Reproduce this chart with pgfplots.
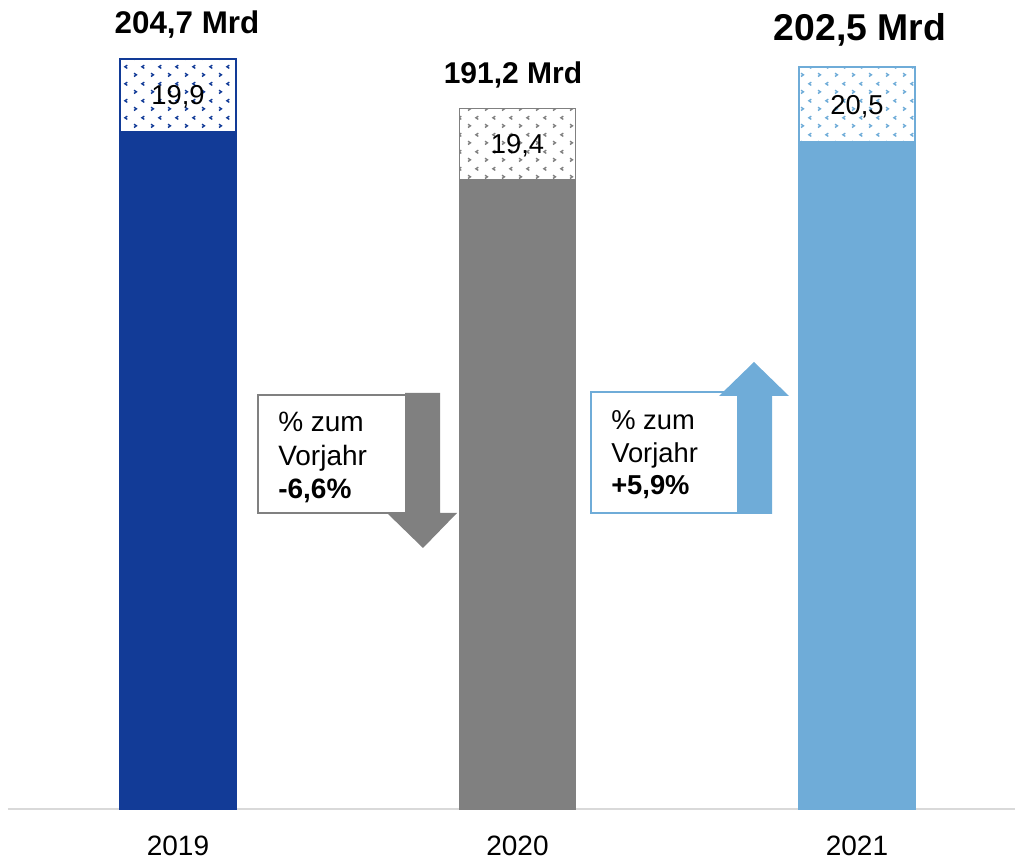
\documentclass[border=0pt]{standalone}
\usepackage{fontspec}
\setmainfont{Liberation Sans}
\usepackage{pgfplots}
\pgfplotsset{compat=1.18}
\usetikzlibrary{patterns.meta}
\definecolor{dblue}{RGB}{18,59,151}
\definecolor{mgray}{RGB}{128,128,128}
\definecolor{lblue}{RGB}{111,172,216}
\definecolor{axgray}{RGB}{217,217,217}

\tikzdeclarepattern{
  name=chevs,
  type=uncolored,
  bounding box={(0pt,0pt) and (12.5pt,12.75pt)},
  tile size={(12.5pt,12.75pt)},
  code={
    \draw[line width=1.1pt] (0.8pt,1.2pt) -- (2.6pt,2.5pt) -- (0.8pt,3.8pt);
    \draw[line width=1.1pt] (8.6pt,7.6pt) -- (6.8pt,8.9pt) -- (8.6pt,10.2pt);
  }
}

\begin{document}
\begin{tikzpicture}
\begin{axis}[
  x=254.625pt, y=2.748pt,
  xmin=-0.50074, xmax=2.46539, ymin=0, ymax=220.8,
  clip=false,
  hide y axis,
  axis x line*=bottom,
  x axis line style={-, draw=axgray, line width=1.5pt},
  xtick={0,1,2}, xticklabels={2019,2020,2021},
  major tick length=0pt,
  xticklabel style={font=\fontsize{21}{25}\selectfont, anchor=base, yshift=-34.5pt},
  /pgf/number format/assume math mode=true,
  bar width=87pt,
]
% totals (patterned upper part shows above the solid part)
\addplot[ybar, bar shift=0pt, draw=dblue, line width=1pt, pattern=chevs, pattern color=dblue] coordinates {(0,204.7)};
\addplot[ybar, bar shift=0pt, draw=mgray, line width=1pt, pattern=chevs, pattern color=mgray] coordinates {(1,191.2)};
\addplot[ybar, bar shift=0pt, draw=lblue, line width=1pt, pattern=chevs, pattern color=lblue] coordinates {(2,202.5)};
% lower solid parts (total minus upper part)
\addplot[ybar, bar shift=0pt, fill=dblue, draw=dblue, line width=1pt] coordinates {(0,184.8)};
\addplot[ybar, bar shift=0pt, fill=mgray, draw=mgray, line width=1pt] coordinates {(1,171.8)};
\addplot[ybar, bar shift=0pt, fill=lblue, draw=lblue, line width=1pt] coordinates {(2,182.0)};
% upper segment labels
\node[font=\fontsize{20.5}{24}\selectfont, text depth=0pt, inner sep=0pt] at (axis cs:0,194.75) {19,9};
\node[font=\fontsize{20.5}{24}\selectfont, text depth=0pt, inner sep=0pt] at (axis cs:1,181.5) {19,4};
\node[font=\fontsize{20.5}{24}\selectfont, text depth=0pt, inner sep=0pt] at (axis cs:2,192.25) {20,5};
\coordinate (O) at (axis cs:-0.52430,220.80);
\end{axis}
\begin{scope}[shift={(O)}, x=0.75pt, y=-0.75pt]
  % total labels
  \node[font=\bfseries\fontsize{23.5}{28}\selectfont, text depth=0pt, inner sep=0pt] at (187,22) {204,7 Mrd};
  \node[font=\bfseries\fontsize{22.5}{27}\selectfont, text depth=0pt, inner sep=0pt] at (513,73) {191,2 Mrd};
  \node[font=\bfseries\fontsize{28}{33}\selectfont, text depth=0pt, inner sep=0pt] at (860,27) {202,5 Mrd};
  % box 1 with down arrow
  \draw[mgray, line width=1.1pt, fill=white] (258,395) rectangle (407,513);
  \fill[mgray] (405,393) -- (440,393) -- (440,513) -- (457,513) -- (423,548) -- (387,513) -- (405,513) -- cycle;
  \node[anchor=base west, inner sep=0pt, font=\fontsize{21}{25}\selectfont] at (278,432) {\% zum};
  \node[anchor=base west, inner sep=0pt, font=\fontsize{21}{25}\selectfont] at (278,466) {Vorjahr};
  \node[anchor=base west, inner sep=0pt, font=\bfseries\fontsize{21}{25}\selectfont] at (278,499) {-6,6\%};
  % box 2 with up arrow
  \draw[lblue, line width=1.1pt, fill=white] (591,392) rectangle (740,513);
  \fill[lblue] (737,514) -- (772,514) -- (772,396) -- (789,396) -- (754,362) -- (719,396) -- (737,396) -- cycle;
  \node[anchor=base west, inner sep=0pt, font=\fontsize{20.5}{24}\selectfont] at (611,430) {\% zum};
  \node[anchor=base west, inner sep=0pt, font=\fontsize{20.5}{24}\selectfont] at (611,463) {Vorjahr};
  \node[anchor=base west, inner sep=0pt, font=\bfseries\fontsize{20.5}{24}\selectfont] at (611,495) {+5,9\%};
  \pgfresetboundingbox
  \path (0,0) rectangle (1015,860);
\end{scope}
\end{tikzpicture}
\end{document}
